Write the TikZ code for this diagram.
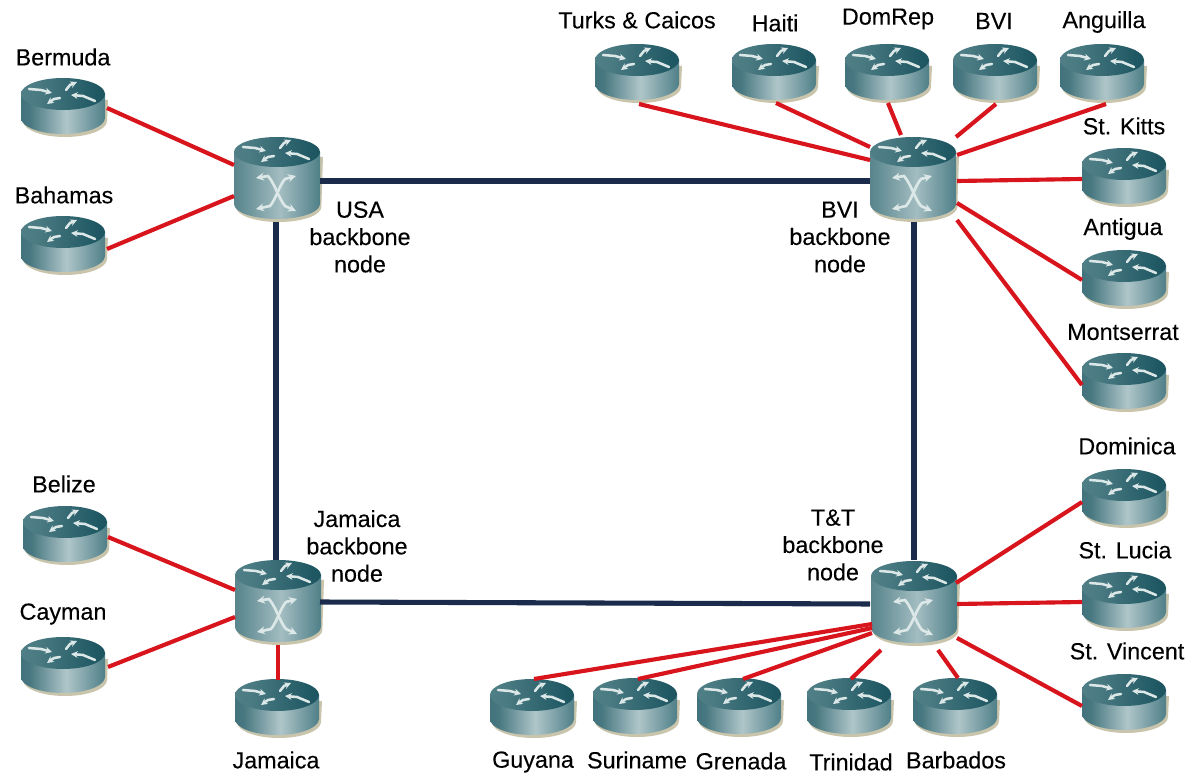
\documentclass[tikz,border=0pt]{standalone}
\usepackage{fontspec}
\setmainfont{Liberation Sans}
\newfontfamily\lblfont[FakeBold=0.15]{Liberation Sans}
\usetikzlibrary{calc,arrows.meta}
\definecolor{sa}{HTML}{2A5963}
\definecolor{sb}{HTML}{477780}
\definecolor{sc}{HTML}{AFC6C9}
\definecolor{sd}{HTML}{4F7F88}
\definecolor{se}{HTML}{1E4A54}
\definecolor{ta}{HTML}{5F8C92}
\definecolor{tb}{HTML}{4A7A82}
\definecolor{tc}{HTML}{1F5863}
\definecolor{td}{HTML}{123F4A}
\definecolor{ba}{HTML}{648E95}
\definecolor{bb}{HTML}{A3BDC1}
\pgfdeclarehorizontalshading{rbody}{100bp}{color(0bp)=(sa);color(30bp)=(sb);color(52bp)=(sc);color(75bp)=(sd);color(100bp)=(se)}
\pgfdeclarehorizontalshading{rtop}{100bp}{color(0bp)=(ta);color(35bp)=(tb);color(70bp)=(tc);color(100bp)=(td)}
\pgfdeclarehorizontalshading{bbody}{100bp}{color(0bp)=(sa);color(30bp)=(ba);color(52bp)=(bb);color(75bp)=(sd);color(100bp)=(se)}
\definecolor{linkred}{HTML}{D8141C}
\definecolor{linknavy}{HTML}{1B2B4B}
\definecolor{glyphwhite}{HTML}{DCE8E8}
\definecolor{shadowtan}{HTML}{C9C4AC}
\tikzset{
  x=0.75pt,y=-0.75pt,
  routerbox/.style={rectangle,minimum width=63pt,minimum height=42pt,inner sep=0pt},
  bonebox/.style={rectangle,minimum width=64.5pt,minimum height=64pt,inner sep=0pt},
  lbl/.style={font=\lblfont\fontsize{17.5}{20.5}\selectfont,text=black,inner sep=0pt,align=center},
  redlink/.style={draw=linkred,line width=3.1pt},
  bonelink/.style={draw=linknavy,line width=3.8pt},
  glyph/.style={draw=glyphwhite,line width=1.9pt,line cap=round,-{Stealth[length=5pt,width=5pt]}},
  glyphx/.style={draw=glyphwhite,line width=2pt,line cap=round,{Stealth[length=6pt,width=6pt]}-{Stealth[length=6pt,width=6pt]}},
  shadowfill/.style={fill=shadowtan}
}
% top-face arrows, relative to router centre
\newcommand{\topglyphs}[1]{%
  \begin{scope}[shift={(0,#1)}]
    \draw[glyph] (-34,-19) -- (-22,-18) -- (-11,-15);
    \draw[glyph] (3,-18) -- (7,-23) -- (14,-26);
    \draw[glyph] (-3,-10) -- (-9,-9) -- (-16,-4);
    \draw[glyph] (32,-7) -- (20,-12) -- (8,-13);
  \end{scope}}
\newcommand{\smallrouter}[3]{%
  \node[routerbox] (#1) at (#2,#3) {};
  \begin{scope}[shift={(#2,#3)}]
    \fill[shadowfill] (-40,13) arc[start angle=180,end angle=360,x radius=31.5pt,y radius=12pt] -- (45,-8) -- (40,-8) -- cycle;
    \shade[shading=rbody] (-42,-14) -- (-42,10) arc[start angle=180,end angle=360,x radius=31.5pt,y radius=12pt] -- (42,-14) -- cycle;
    \shade[shading=rtop] (0,-14) ellipse[x radius=31.5pt,y radius=12pt];
    \topglyphs{0}
  \end{scope}}
\newcommand{\bonerouter}[3]{%
  \node[bonebox] (#1) at (#2,#3) {};
  \begin{scope}[shift={(#2,#3)}]
    \fill[shadowfill] (-41,28) arc[start angle=180,end angle=360,x radius=32pt,y radius=11.25pt] -- (46,-22) -- (40,-22) -- cycle;
    \shade[shading=bbody] (-43,-27) -- (-43,25) arc[start angle=180,end angle=360,x radius=32.25pt,y radius=11.25pt] -- (43,-27) -- cycle;
    \shade[shading=rtop] (0,-27) ellipse[x radius=32.25pt,y radius=11.25pt];
    \topglyphs{-13}
    \draw[glyphx] (-21,-1) -- (-9,-3) .. controls (-2,5) and (2,20) .. (8,27) -- (19,32);
    \draw[glyphx] (-21,30) -- (-7,27) .. controls (-1,20) and (2,7) .. (8,0) -- (19,-3);
  \end{scope}}
% \lnk{style}{a}{dx}{dy}{b}{dx}{dy}
\newcommand{\lnk}[7]{\draw[#1] ($(#2)+(#3,#4)$) -- ($(#5)+(#6,#7)$);}
\begin{document}
\begin{tikzpicture}
\useasboundingbox (0,0) rectangle (1190,773);
\fill[white] (0,0) rectangle (1190,773);
% routers
\bonerouter{usa}{277}{179}
\bonerouter{bvib}{913}{179}
\bonerouter{jam}{278}{602}
\bonerouter{tt}{914}{603}
\smallrouter{bermuda}{63}{108}
\smallrouter{bahamas}{63}{246}
\smallrouter{belize}{65}{536}
\smallrouter{cayman}{63}{667}
\smallrouter{jamaica}{277}{709}
\smallrouter{guyana}{532}{709}
\smallrouter{suriname}{635}{708}
\smallrouter{grenada}{739}{708}
\smallrouter{trinidad}{849}{708}
\smallrouter{barbados}{955}{708}
\smallrouter{stvincent}{1124}{704}
\smallrouter{stlucia}{1124}{602}
\smallrouter{dominica}{1124}{499}
\smallrouter{montserrat}{1124}{383}
\smallrouter{antigua}{1124}{280}
\smallrouter{stkitts}{1124}{178}
\smallrouter{anguilla}{1102}{74}
\smallrouter{bvi}{995}{74}
\smallrouter{domrep}{887}{74}
\smallrouter{haiti}{774}{74}
\smallrouter{turks}{637}{74}
% backbone links
\lnk{bonelink}{usa}{43}{2}{bvib}{-43}{2}
\lnk{bonelink}{usa}{-1}{43}{jam}{-2}{-42}
\lnk{bonelink}{bvib}{1}{43}{tt}{0}{-43}
\lnk{bonelink}{jam}{42}{0}{tt}{-44}{1}
% red links
\lnk{redlink}{bermuda}{44}{0}{usa}{-43}{-14}
\lnk{redlink}{bahamas}{44}{3}{usa}{-43}{17}
\lnk{redlink}{belize}{43}{1}{jam}{-43}{-12}
\lnk{redlink}{cayman}{45}{0}{jam}{-43}{15}
\lnk{redlink}{jamaica}{1}{-29}{jam}{0}{43}
\lnk{redlink}{turks}{2}{30}{bvib}{-43}{-19}
\lnk{redlink}{haiti}{2}{29}{bvib}{-43}{-32}
\lnk{redlink}{domrep}{1}{29}{bvib}{-12}{-44}
\lnk{redlink}{bvi}{1}{30}{bvib}{43}{-42}
\lnk{redlink}{anguilla}{4}{30}{bvib}{44}{-24}
\lnk{redlink}{stkitts}{-42}{1}{bvib}{44}{2}
\lnk{redlink}{antigua}{-42}{0}{bvib}{44}{24}
\lnk{redlink}{montserrat}{-42}{2}{bvib}{44}{41}
\lnk{redlink}{dominica}{-42}{3}{tt}{42}{-20}
\lnk{redlink}{stlucia}{-42}{0}{tt}{43}{1}
\lnk{redlink}{stvincent}{-42}{2}{tt}{43}{35}
\lnk{redlink}{guyana}{2}{-30}{tt}{-42}{21}
\lnk{redlink}{suriname}{3}{-29}{tt}{-42}{25}
\lnk{redlink}{grenada}{4}{-29}{tt}{-42}{30}
\lnk{redlink}{trinidad}{2}{-29}{tt}{-33}{47}
\lnk{redlink}{barbados}{3}{-30}{tt}{24}{47}
% labels
\node[lbl] (tbermuda) at (63,57) {Bermuda};
\node[lbl] (tbahamas) at (64,195) {Bahamas};
\node[lbl] (tbelize) at (64,484) {Belize};
\node[lbl] (tcayman) at (63,614) {Cayman};
\node[lbl] (tjamaica) at (276,760) {Jamaica};
\node[lbl] (tguyana) at (533,762) {Guyana};
\node[lbl] (tsuriname) at (637,760) {Suriname};
\node[lbl] (tgrenada) at (741,761) {Grenada};
\node[lbl] (ttrinidad) at (851,762) {Trinidad};
\node[lbl] (tbarbados) at (956,760) {Barbados};
\node[lbl] (tstvincent) at (1127,651) {St. Vincent};
\node[lbl] (tstlucia) at (1125,550) {St. Lucia};
\node[lbl] (tdominica) at (1127,446) {Dominica};
\node[lbl] (tmontserrat) at (1123,332) {Montserrat};
\node[lbl] (tantigua) at (1123,229) {Antigua};
\node[lbl] (tstkitts) at (1124,126) {St. Kitts};
\node[lbl] (tanguilla) at (1104,22) {Anguilla};
\node[lbl] (tbvi) at (994,21) {BVI};
\node[lbl] (tdomrep) at (888,19) {DomRep};
\node[lbl] (thaiti) at (775,23) {Haiti};
\node[lbl] (tturks) at (637,20) {Turks \& Caicos};
\node[lbl] (tusab) at (360,237) {USA\\backbone\\node};
\node[lbl] (tbvib) at (840,237) {BVI\\backbone\\node};
\node[lbl] (tjamb) at (357,546) {Jamaica\\backbone\\node};
\node[lbl] (tttb) at (833,545) {T\&T\\backbone\\node};
\end{tikzpicture}
\end{document}
